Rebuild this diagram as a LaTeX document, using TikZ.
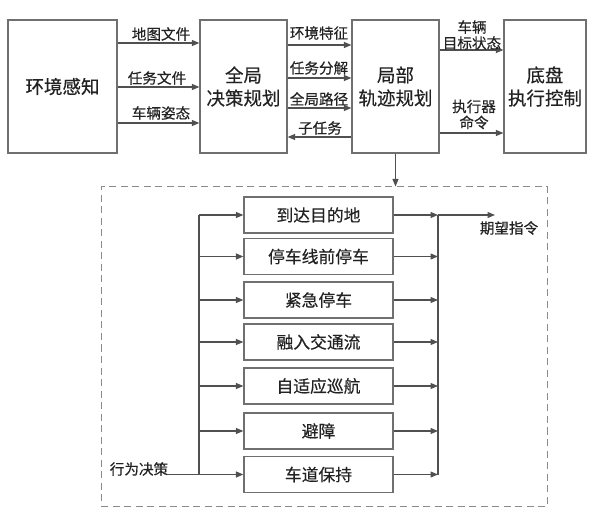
\documentclass[tikz,border=0pt]{standalone}
\usepackage{fontspec}
\setmainfont{Noto Sans CJK SC}[FakeBold=0.4]
\usetikzlibrary{arrows.meta}
\definecolor{txt}{HTML}{222222}
\definecolor{boxc}{HTML}{707070}
\definecolor{linec}{HTML}{505050}
\definecolor{dashc}{HTML}{8A8A8A}
\begin{document}
\begin{tikzpicture}[x=1pt,y=-1pt,
  bigbox/.style={draw=boxc, line width=1.2pt, minimum height=133pt, align=center, text=txt, inner sep=0pt, font=\fontsize{18.5}{23}\selectfont},
  behbox/.style={draw=boxc, line width=1.2pt, minimum width=149pt, minimum height=36pt, text=txt, inner sep=0pt, font=\fontsize{16.8}{19}\selectfont},
  lab/.style={text=txt, inner sep=0pt, align=center, font=\fontsize{14.6}{16}\selectfont},
  arr/.style={draw=linec, line width=1.1pt, -{Triangle[length=7.5pt,width=6pt]}},
  bus/.style={draw=linec, line width=1.1pt}
]
\useasboundingbox (0,0) rectangle (597,526);
% top row
\node[bigbox, minimum width=109pt] (env) at (62.5,86.5) {环境感知};
\node[bigbox, minimum width=87pt] (glob) at (243.5,86.5) {全局\\决策规划};
\node[bigbox, minimum width=87pt] (loc) at (395.5,86.5) {局部\\轨迹规划};
\node[bigbox, minimum width=82pt] (chas) at (545,86.5) {底盘\\执行控制};
% env -> glob
\draw[arr] (env.east |- 0,43) -- (glob.west |- 0,43);
\draw[arr] (env.east |- 0,87) -- (glob.west |- 0,87);
\draw[arr] (env.east |- 0,123) -- (glob.west |- 0,123);
\node[lab] (l1) at (161,34) {地图文件};
\node[lab] (l2) at (157,78) {任务文件};
\node[lab] (l3) at (161,113) {车辆姿态};
% glob <-> loc
\draw[arr] (glob.east |- 0,45) -- (loc.west |- 0,45);
\draw[arr] (glob.east |- 0,78) -- (loc.west |- 0,78);
\draw[arr] (glob.east |- 0,108) -- (loc.west |- 0,108);
\draw[arr] (loc.west |- 0,137) -- (glob.east |- 0,137);
\node[lab] (l4) at (319,33) {环境特征};
\node[lab] (l5) at (319,68) {任务分解};
\node[lab] (l6) at (319,99) {全局路径};
\node[lab] (l7) at (320,128) {子任务};
% loc -> chassis
\draw[arr] (loc.east |- 0,50) -- (chas.west |- 0,50);
\draw[arr] (loc.east |- 0,133) -- (chas.west |- 0,133);
\node[lab] (l8) at (472,35) {车辆\\目标状态};
\node[lab] (l9) at (474,114.5) {执行器\\命令};
% dashed box
\node[draw=dashc, line width=1pt, dash pattern=on 7pt off 4.5pt, minimum width=446pt, minimum height=319pt, inner sep=0pt] (dash) at (324,346.5) {};
\draw[arr] (loc.south) -- (loc.south |- dash.north);
% behaviour boxes
\node[behbox] (b1) at (318.5,215) {到达目的地};
\node[behbox] (b2) at (318.5,256.5) {停车线前停车};
\node[behbox] (b3) at (318.5,300) {紧急停车};
\node[behbox] (b4) at (318.5,342) {融入交通流};
\node[behbox] (b5) at (318.5,386) {自适应巡航};
\node[behbox] (b6) at (318.5,431) {避障};
\node[behbox] (b7) at (318.5,474.5) {车道保持};
\coordinate (lbus) at (199,0);
\coordinate (rbus) at (438,0);
\draw[bus] (lbus |- b1.west) -- (lbus |- b7.west);
\draw[bus] (rbus |- b1.east) -- (rbus |- b7.east);
\foreach \i in {1,...,7} {
  \draw[arr] (lbus |- b\i.west) -- (b\i.west);
  \draw[arr] (b\i.east) -- (rbus |- b\i.east);
}
\node[lab] (dec) at (139,469) {行为决策};
\draw[bus] (dec.east |- b7.west) -- (lbus |- b7.west);
\coordinate (out) at (495,215);
\draw[arr] (rbus |- b1.east) -- (out);
\node[lab] (exp) at (509,228) {期望指令};
\end{tikzpicture}
\end{document}
